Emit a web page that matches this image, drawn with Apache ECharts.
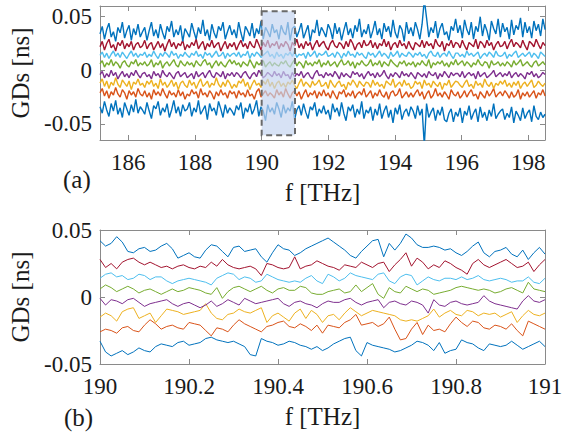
<!DOCTYPE html>
<html>
<head>
<meta charset="utf-8">
<script src="https://cdn.jsdelivr.net/npm/echarts@6/dist/echarts.min.js"></script>
<style>
html,body{margin:0;padding:0;background:#fff;}
#chart{width:579px;height:434px;}
</style>
</head>
<body>
<div id="chart"></div>
<script>
// ---------- Panel (a): wide band, values in ps (1e-3 ns) ----------
const freqStartA = 185.15, freqStepA = 0.0671;
const a_blueTop = [34,41,29,38,44,31,36,27,40,35,45,30,37,42,28,39,33,43,31,36,
40,28,37,45,32,38,30,43,35,29,41,36,46,31,38,33,42,27,39,35,
31,44,36,29,40,34,47,32,38,28,43,35,30,41,37,45,29,36,42,33,
38,30,45,35,27,41,37,32,44,30,39,34,46,29,40,36,31,43,35,38,
29,42,36,33,45,28,39,41,31,37,44,30,36,42,27,38,35,47,32,40,
36,31,43,38,29,44,34,40,28,37,45,33,39,30,42,36,48,31,38,34,
43,30,37,46,33,39,29,44,36,41,31,47,35,30,42,38,27,45,34,40,
32,45,38,29,43,66,49,31,40,35,46,30,39,44,33,36,28,41,37,48,
35,42,30,47,38,33,45,29,41,36,50,32,43,37,28,46,39,34,48,31,
44,36,40,29,47,33,42,38,49,31,45,35,41,30,46,37,43,32,48,38];
const a_red = [22,27,19,25,29,21,24,18,26,23,28,20,25,22,27,19,24,26,21,23,
28,20,24,26,19,23,27,21,25,18,24,29,22,26,20,25,23,28,19,24,
21,26,23,29,20,24,27,19,25,22,28,21,24,26,18,23,27,20,25,22,
26,19,24,28,22,25,20,27,23,21,29,24,19,26,22,28,21,25,23,27,
20,25,22,27,24,18,26,23,29,21,25,20,27,23,26,19,24,28,22,25,
27,22,19,25,28,23,21,26,24,20,27,22,29,25,19,24,26,21,28,23,
24,28,21,26,20,25,23,29,22,27,19,24,26,21,28,23,25,20,27,22,
19,26,24,22,28,21,27,23,25,20,29,24,22,27,18,25,23,28,21,26,
25,21,28,23,19,26,24,22,29,20,27,25,21,28,23,26,19,24,27,22,
23,27,20,25,29,22,26,24,21,28,23,19,27,25,22,29,24,20,26,23];
const a_cyan = [14,17,12,16,11,15,18,13,16,12,17,14,11,15,18,13,16,12,15,14,
17,12,15,13,18,14,11,16,13,17,15,12,18,14,16,11,15,13,17,14,
12,16,14,18,13,15,11,17,14,16,12,15,18,13,14,17,11,16,13,15,
16,13,17,12,15,14,18,11,16,13,17,15,12,14,16,18,13,15,11,17,
13,15,11,16,14,17,13,18,12,15,14,16,11,17,13,15,18,12,16,14,
15,18,13,14,16,12,17,15,11,16,13,18,14,15,12,17,14,16,13,11,
17,14,16,12,15,18,13,16,14,11,17,13,15,18,12,16,14,13,17,15,
12,16,14,17,13,15,11,16,18,14,13,17,12,15,16,13,18,14,11,16,
16,13,15,12,18,14,16,13,15,17,11,14,16,13,17,15,12,18,14,13,
14,17,11,15,13,16,18,12,14,16,13,15,17,12,16,14,11,17,15,13];
const a_green = [6,9,3,7,5,10,4,8,6,2,7,9,5,3,8,6,10,4,7,5,
8,4,6,10,3,7,5,9,2,6,8,4,7,10,5,3,9,6,4,8,
5,7,3,9,6,4,8,10,5,7,2,6,9,4,8,5,3,7,10,6,
9,5,7,3,8,6,4,10,6,2,8,5,7,9,3,6,8,4,7,5,
4,8,6,9,5,3,7,10,4,8,6,2,9,5,7,4,8,6,10,3,
7,5,9,4,6,8,3,7,10,5,6,9,4,8,2,7,5,9,6,4,
6,10,4,7,5,9,3,8,6,4,10,7,5,3,8,6,9,4,7,5,
8,3,7,5,9,6,4,10,2,7,5,8,6,9,4,7,3,8,5,10,
5,7,9,4,8,6,3,7,5,10,6,4,8,7,2,9,5,6,8,4,
7,4,8,6,3,9,5,7,10,4,6,8,5,3,7,9,4,6,8,5];
const a_purple = [-4,-1,-7,-3,-6,0,-5,-2,-8,-4,-1,-6,-3,-7,-2,-5,0,-4,-7,-3,
-2,-6,-4,-8,-1,-5,-3,-7,0,-4,-6,-2,-5,-8,-3,-1,-6,-4,-2,-7,
-5,-3,-8,-1,-6,-4,-2,-7,-3,0,-5,-7,-2,-4,-6,-1,-8,-3,-5,-2,
-6,-2,-4,-7,-3,-1,-5,-8,-4,-2,-6,0,-3,-7,-5,-2,-4,-6,-1,-5,
-3,-7,-1,-5,-4,-8,-2,-6,-3,-5,-1,-7,-4,-2,-6,-8,-3,0,-5,-4,
-7,-2,-5,-3,-6,-1,-4,-8,-2,-6,-3,-5,-7,-1,-4,-2,-6,-3,-8,-4,
-1,-5,-3,-7,-2,-6,-4,0,-5,-8,-3,-6,-2,-4,-7,-1,-5,-3,-6,-2,
-5,-8,-2,-4,-6,-3,-7,-1,-4,-5,-2,-8,-3,-6,-1,-4,-7,-2,-5,-3,
-3,-6,-1,-7,-4,-2,-5,-3,-8,-1,-6,-4,-2,-7,-5,-3,0,-6,-4,-2,
-6,-3,-5,-1,-7,-4,-2,-6,-3,-5,-8,-2,-4,-1,-6,-3,-7,-5,-2,-4];
const a_yellow = [-12,-8,-15,-10,-17,-11,-14,-7,-13,-16,-9,-12,-15,-10,-18,-11,-13,-8,-14,-12,
-16,-10,-13,-9,-15,-12,-17,-8,-14,-11,-16,-13,-9,-15,-11,-18,-12,-10,-14,-16,
-9,-14,-11,-17,-12,-8,-15,-13,-10,-16,-12,-14,-7,-13,-16,-11,-15,-9,-12,-17,
-13,-16,-10,-12,-8,-15,-11,-18,-13,-9,-14,-12,-16,-10,-13,-8,-15,-11,-17,-12,
-10,-15,-12,-16,-11,-13,-9,-14,-17,-12,-8,-15,-11,-13,-16,-10,-14,-12,-9,-15,
-14,-11,-17,-9,-13,-16,-12,-10,-15,-13,-18,-11,-14,-9,-12,-16,-10,-13,-15,-11,
-12,-16,-9,-14,-11,-15,-13,-17,-10,-12,-14,-8,-16,-13,-11,-15,-9,-14,-12,-17,
-15,-10,-13,-11,-17,-9,-14,-12,-16,-10,-13,-15,-11,-18,-12,-14,-9,-16,-13,-10,
-11,-14,-16,-12,-9,-15,-13,-17,-10,-14,-12,-16,-8,-13,-15,-11,-17,-12,-14,-10,
-13,-9,-15,-12,-16,-11,-14,-10,-17,-13,-11,-15,-12,-9,-16,-14,-10,-13,-15,-12];
const a_orange = [-21,-17,-24,-19,-26,-20,-23,-16,-22,-25,-18,-21,-27,-19,-23,-20,-25,-17,-22,-24,
-19,-25,-21,-27,-18,-23,-20,-24,-17,-22,-26,-19,-23,-21,-25,-18,-24,-20,-27,-22,
-24,-18,-22,-20,-26,-17,-23,-21,-25,-19,-22,-27,-20,-24,-18,-23,-21,-26,-19,-22,
-20,-26,-19,-23,-21,-25,-18,-24,-22,-27,-20,-17,-25,-22,-19,-24,-21,-23,-26,-18,
-23,-20,-25,-17,-22,-26,-21,-19,-24,-20,-27,-22,-18,-25,-21,-23,-19,-26,-20,-24,
-18,-24,-21,-26,-19,-23,-27,-20,-22,-18,-25,-21,-24,-19,-26,-22,-20,-23,-17,-25,
-22,-19,-26,-21,-24,-18,-23,-25,-20,-27,-21,-19,-24,-22,-17,-26,-23,-20,-25,-21,
-25,-21,-18,-24,-20,-27,-22,-19,-26,-23,-17,-24,-21,-25,-20,-23,-27,-18,-22,-24,
-20,-26,-23,-19,-25,-21,-18,-24,-22,-27,-20,-23,-26,-19,-24,-21,-17,-25,-22,-20,
-24,-19,-22,-26,-20,-25,-23,-18,-27,-21,-24,-20,-25,-22,-19,-26,-21,-23,-18,-24];
const a_blueBottom = [-34,-40,-29,-37,-43,-31,-38,-28,-41,-35,-44,-30,-36,-42,-32,-39,-27,-40,-34,-37,
-41,-30,-38,-45,-33,-36,-29,-42,-35,-39,-31,-44,-37,-28,-40,-34,-43,-32,-38,-36,
-30,-43,-35,-39,-28,-41,-37,-33,-46,-31,-38,-35,-42,-29,-36,-44,-32,-40,-35,-38,
-42,-33,-37,-30,-45,-35,-39,-31,-41,-36,-28,-43,-34,-38,-47,-32,-39,-35,-41,-30,
-36,-44,-32,-40,-35,-38,-29,-46,-37,-33,-42,-31,-39,-45,-34,-37,-30,-43,-36,-40,
-33,-41,-37,-46,-31,-39,-35,-43,-30,-40,-47,-34,-38,-32,-44,-36,-41,-29,-45,-37,
-40,-34,-47,-36,-42,-31,-45,-38,-33,-44,-37,-49,-35,-41,-32,-46,-39,-36,-43,-34,
-38,-45,-33,-42,-36,-70,-31,-44,-39,-35,-47,-37,-42,-34,-46,-48,-40,-36,-48,-39,
-43,-35,-49,-38,-42,-33,-46,-40,-36,-48,-34,-44,-39,-47,-37,-43,-31,-45,-41,-38,
-36,-46,-40,-44,-34,-49,-38,-42,-47,-35,-45,-40,-37,-48,-33,-43,-46,-39,-44,-41];

// ---------- Panel (b): zoom 190-191 THz, values in ps ----------
const freqStartB = 190, freqStepB = 0.0125;
const b_blueTop = [42,38,40,45,41,34,33,36,37,34,35,38,40,36,29,31,33,30,29,35,39,
38,34,30,37,38,34,35,36,30,26,33,39,36,35,31,33,36,38,40,42,
44,41,38,35,31,29,34,38,42,43,30,40,35,40,47,44,39,37,37,38,
37,35,36,33,31,34,38,41,33,30,34,35,37,32,30,35,28,33,37,32];
const b_red = [28,22,25,21,26,28,29,26,24,26,24,22,23,21,23,24,22,21,23,22,26,
23,28,24,22,21,22,23,21,16,25,24,22,21,22,30,21,23,24,27,25,
23,22,20,24,23,22,26,24,22,25,26,19,24,28,33,23,29,26,21,24,
22,27,25,22,20,17,25,28,24,22,24,26,28,25,22,23,26,19,24,28];
const b_cyan = [14,17,18,15,16,13,14,17,16,13,15,15,12,10,12,13,14,13,12,11,9,
14,16,18,17,13,15,14,11,12,17,15,13,12,11,12,11,14,16,12,10,
17,15,12,14,18,16,15,14,13,17,18,12,10,15,17,16,9,12,15,13,
12,14,14,13,15,13,14,16,13,12,13,14,13,11,12,12,15,11,10,14];
const b_green = [6,9,7,4,6,8,6,3,5,6,4,2,4,6,4,5,7,6,5,3,2,
7,-1,4,7,8,6,4,6,8,5,3,6,7,5,5,8,7,3,2,2,
4,5,6,3,4,9,4,7,10,2,-1,7,4,3,8,6,4,6,5,2,
3,4,5,7,8,7,6,5,6,5,3,4,6,7,5,3,11,6,5,4];
const b_purple = [-1,-6,-2,-3,-5,-2,-1,-4,-7,-5,-4,-3,-2,-5,-7,-5,-4,-6,-8,-6,-3,
-7,-5,-2,-4,-6,-1,-3,-5,-4,-3,-2,-1,-5,-7,-4,-3,-5,-6,-8,-5,
-3,-4,-4,-2,-1,-4,-6,-4,-3,-2,-8,-4,-3,-5,-6,-3,-4,-6,-12,-2,
-6,-7,-4,-3,-5,-6,-5,-4,1,-3,-5,-6,-7,-8,-9,-3,1,-3,-4,-2];
const b_yellow = [-15,-12,-14,-18,-11,-9,-8,-16,-14,-12,-19,-14,-9,-10,-11,-13,-12,-11,-10,-5,-12,
-16,-17,-13,-12,-9,-11,-12,-10,-8,-19,-14,-12,-15,-18,-12,-9,-16,-10,-13,-19,
-14,-13,-17,-12,-8,-11,-14,-12,-10,-11,-12,-13,-14,-17,-18,-17,-18,-16,-14,-9,
-15,-12,-10,-13,-14,-10,-11,-14,-12,-13,-12,-15,-13,-11,-19,-14,-10,-13,-14,-12];
const b_orange = [-26,-24,-25,-27,-23,-22,-25,-26,-21,-17,-20,-24,-22,-21,-23,-24,-19,-20,-21,-25,-29,
-23,-24,-26,-21,-17,-20,-22,-24,-26,-22,-21,-19,-18,-22,-23,-20,-22,-25,-21,-27,
-21,-22,-23,-19,-17,-13,-21,-20,-19,-22,-20,-15,-24,-32,-31,-24,-19,-28,-21,-25,
-24,-26,-20,-15,-19,-22,-18,-19,-23,-24,-21,-22,-24,-20,-25,-29,-18,-20,-22,-24];
const b_blueBottom = [-33,-41,-44,-42,-40,-43,-41,-38,-40,-41,-37,-35,-36,-37,-34,-33,-36,-35,-34,-31,-30,
-32,-33,-34,-33,-35,-37,-43,-44,-31,-33,-34,-36,-35,-33,-34,-36,-37,-39,-37,-40,
-38,-35,-33,-31,-30,-40,-44,-34,-36,-37,-38,-39,-41,-40,-38,-36,-33,-34,-36,-40,
-34,-42,-40,-39,-32,-34,-35,-38,-40,-35,-36,-37,-36,-33,-36,-39,-37,-35,-33,-37];

// ---------- axes / annotation values ----------
const xTicksA = [186,188,190,192,194,196,198];
const yTicksA = [-0.05,0,0.05];
const xRangeA = [185.15,198.5];
const yRangeA = [-0.065,0.06];
const xRangeB = [190,191];
const yRangeB = [-0.05,0.05];
const zoomBox = [190,191,-0.0605,0.055]; // x0, x1, y0, y1
const panelLabels = ['(a)','(b)'];

const COL = {blue:'#0072BD', orange:'#D95319', yellow:'#EDB120', purple:'#7E2F8E',
             green:'#77AC30', cyan:'#4DBEEE', red:'#A2142F'};
const FRAME = '#8a8a8a';
const TXT = '#1a1a1a';
const FONT = 'Liberation Serif';

function toPairs(arr, start, step){
  return arr.map((v,i)=>[start + i*step, v/1000]);
}
const setsA = [[a_blueBottom,COL.blue],[a_orange,COL.orange],[a_yellow,COL.yellow],[a_purple,COL.purple],
               [a_green,COL.green],[a_cyan,COL.cyan],[a_red,COL.red],[a_blueTop,COL.blue]];
const setsB = [[b_blueBottom,COL.blue],[b_orange,COL.orange],[b_yellow,COL.yellow],[b_purple,COL.purple],
               [b_green,COL.green],[b_cyan,COL.cyan],[b_red,COL.red],[b_blueTop,COL.blue]];

const series = [];
setsA.forEach(([arr,c])=>series.push({type:'line', xAxisIndex:0, yAxisIndex:0, data:toPairs(arr,freqStartA,freqStepA),
  showSymbol:false, lineStyle:{width:1.4, color:c}, itemStyle:{color:c}, silent:true, clip:true}));
setsB.forEach(([arr,c])=>series.push({type:'line', xAxisIndex:2, yAxisIndex:2, data:toPairs(arr,freqStartB,freqStepB),
  showSymbol:false, lineStyle:{width:1, color:c}, itemStyle:{color:c}, silent:true, clip:true}));
series.push({type:'custom', xAxisIndex:0, yAxisIndex:0, z:10, silent:true, data:[zoomBox],
  renderItem:function(params, api){
    const p1 = api.coord([api.value(0), api.value(3)]);
    const p2 = api.coord([api.value(1), api.value(2)]);
    return {type:'rect', shape:{x:p1[0], y:p1[1], width:p2[0]-p1[0], height:p2[1]-p1[1]},
      style:{fill:'rgba(196,212,240,0.68)', stroke:'#6a6a6a', lineWidth:2, lineDash:[6,4]}};
  }});

const labelStyle = {color:TXT, fontFamily:FONT, fontSize:23};
const nameStyle = {color:TXT, fontFamily:FONT, fontSize:25};

function xAxisMain(grid, range, ticks, interval, fmt){
  const o = {gridIndex:grid, type:'value', position:'bottom', min:range[0], max:range[1],
    axisLine:{onZero:false, lineStyle:{color:FRAME, width:1}},
    axisTick:{inside:true, length:5, lineStyle:{color:FRAME}},
    axisLabel:Object.assign({margin:11, formatter:fmt}, labelStyle),
    splitLine:{show:false},
    name:'f [THz]', nameLocation:'middle', nameGap:40, nameTextStyle:nameStyle};
  if (ticks){ o.axisLabel.customValues = ticks; o.axisTick.customValues = ticks; }
  if (interval){ o.interval = interval; }
  return o;
}
function xAxisTop(grid, range, ticks, interval){
  const o = {gridIndex:grid, type:'value', position:'top', min:range[0], max:range[1],
    axisLine:{onZero:false, lineStyle:{color:FRAME, width:1}},
    axisTick:{inside:true, length:5, lineStyle:{color:FRAME}},
    axisLabel:{show:false}, splitLine:{show:false}};
  if (ticks){ o.axisTick.customValues = ticks; o.axisLabel.customValues = ticks; }
  if (interval){ o.interval = interval; }
  return o;
}
function yAxisMain(grid, range, ticks, interval){
  const o = {gridIndex:grid, type:'value', position:'left', min:range[0], max:range[1],
    axisLine:{onZero:false, lineStyle:{color:FRAME, width:1}},
    axisTick:{inside:true, length:5, lineStyle:{color:FRAME}},
    axisLabel:Object.assign({margin:8, formatter:v=>String(+v.toFixed(3))}, labelStyle),
    splitLine:{show:false},
    name:'GDs [ns]', nameLocation:'middle', nameGap:60, nameRotate:90, nameTextStyle:nameStyle};
  if (ticks){ o.axisLabel.customValues = ticks; o.axisTick.customValues = ticks; }
  if (interval){ o.interval = interval; }
  return o;
}
function yAxisRight(grid, range, ticks, interval){
  const o = {gridIndex:grid, type:'value', position:'right', min:range[0], max:range[1],
    axisLine:{onZero:false, lineStyle:{color:FRAME, width:1}},
    axisTick:{inside:true, length:5, lineStyle:{color:FRAME}},
    axisLabel:{show:false}, splitLine:{show:false}};
  if (ticks){ o.axisTick.customValues = ticks; o.axisLabel.customValues = ticks; }
  if (interval){ o.interval = interval; }
  return o;
}

const option = {
  animation:false,
  backgroundColor:'#ffffff',
  grid:[
    {left:100, top:6, width:445, height:134, containLabel:false},
    {left:100, top:230, width:445, height:134, containLabel:false}
  ],
  xAxis:[
    xAxisMain(0, xRangeA, xTicksA, null, v=>String(v)),
    xAxisTop(0, xRangeA, xTicksA, null),
    xAxisMain(1, xRangeB, null, 0.2, v=>String(+v.toFixed(1))),
    xAxisTop(1, xRangeB, null, 0.2)
  ],
  yAxis:[
    yAxisMain(0, yRangeA, yTicksA, null),
    yAxisRight(0, yRangeA, yTicksA, null),
    yAxisMain(1, yRangeB, null, 0.05),
    yAxisRight(1, yRangeB, null, 0.05)
  ],
  graphic:[
    {type:'text', left:63, top:167, style:{text:panelLabels[0], fill:TXT, fontFamily:FONT, fontSize:25}},
    {type:'text', left:64, top:405, style:{text:panelLabels[1], fill:TXT, fontFamily:FONT, fontSize:25}}
  ],
  series:series
};
const chart = echarts.init(document.getElementById('chart'), null, {renderer:'svg'});
chart.setOption(option);
</script>
</body>
</html>
